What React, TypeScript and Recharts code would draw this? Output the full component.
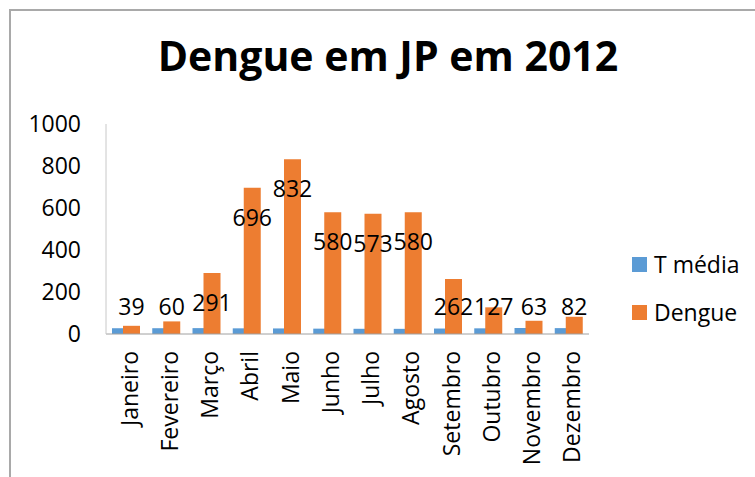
import React from "react";
import { BarChart, Bar, XAxis, YAxis, Legend, LabelList } from "recharts";

const months = [
  "Janeiro",
  "Fevereiro",
  "Março",
  "Abril",
  "Maio",
  "Junho",
  "Julho",
  "Agosto",
  "Setembro",
  "Outubro",
  "Novembro",
  "Dezembro",
];
const tMedia = [27.5, 27.6, 28, 27, 26.5, 25.5, 24.8, 24.6, 26, 27, 28.5, 28];
const dengue = [39, 60, 291, 696, 832, 580, 573, 580, 262, 127, 63, 82];
const yTicks = [0, 200, 400, 600, 800, 1000];

const data = months.map((m, i) => ({ mes: m, tMedia: tMedia[i], dengue: dengue[i] }));

const BLUE = "#5b9bd5";
const ORANGE = "#ed7d31";
const FONT = "'Open Sans', sans-serif";

const MonthTick = (props: any) => {
  const { x, y, payload } = props;
  const ty = y + 17;
  return (
    <text
      x={x + 2.5}
      y={ty}
      transform={`rotate(-90, ${x + 2.5}, ${ty})`}
      textAnchor="end"
      dominantBaseline="central"
      fontFamily={FONT}
      fontSize={23}
      fill="#000"
    >
      {payload.value}
    </text>
  );
};

const DengueLabel = (props: any) => {
  const { x, y, width, value } = props;
  const cy = Math.min(y + 29, 306);
  return (
    <text
      x={x + width / 2}
      y={cy}
      textAnchor="middle"
      dominantBaseline="central"
      fontFamily={FONT}
      fontSize={23}
      fill="#000"
    >
      {value}
    </text>
  );
};

const legendItems = [
  { name: "T média", color: BLUE },
  { name: "Dengue", color: ORANGE },
];

const LegendBox = () => (
  <div style={{ fontFamily: FONT, fontSize: 23, color: "#000" }}>
    {legendItems.map((it) => (
      <div
        key={it.name}
        style={{ display: "flex", alignItems: "center", height: 30, marginBottom: 18, whiteSpace: "nowrap" }}
      >
        <span style={{ display: "inline-block", width: 15, height: 15, background: it.color, marginRight: 7 }} />
        <span style={{ lineHeight: "30px" }}>{it.name}</span>
      </div>
    ))}
  </div>
);

const App = () => {
  return (
    <div
      style={{
        position: "fixed",
        left: 0,
        top: 0,
        width: 755,
        height: 477,
        overflow: "hidden",
        background: "#fff",
      }}
    >
      <div
        style={{
          position: "absolute",
          left: 9,
          top: 9,
          width: 800,
          height: 520,
          border: "2px solid #a9a9a9",
        }}
      />
      <div
        style={{
          position: "absolute",
          left: 0,
          width: 776,
          top: 27,
          textAlign: "center",
          fontFamily: FONT,
          fontWeight: 700,
          fontSize: 41,
          lineHeight: "56px",
          color: "#000",
        }}
      >
        Dengue em JP em 2012
      </div>
      <BarChart
        width={755}
        height={477}
        data={data}
        margin={{ top: 124, right: 166, bottom: 0, left: 0 }}
        barGap={-6}
        style={{ position: "absolute", left: 0, top: 0 }}
      >
        <XAxis
          dataKey="mes"
          interval={0}
          height={143}
          tickLine={false}
          tickSize={0}
          tickMargin={0}
          stroke="#a0a0a0"
          tick={<MonthTick />}
        />
        <YAxis
          domain={[0, 1000]}
          ticks={yTicks}
          width={106}
          tickLine={false}
          tickSize={0}
          tickMargin={25}
          stroke="#c8c8c8"
          tick={{ fontFamily: FONT, fontSize: 23, fill: "#000" }}
        />
        <Legend
          layout="vertical"
          align="center"
          verticalAlign="middle"
          content={<LegendBox />}
          wrapperStyle={{ left: 632, top: 249, width: 120 }}
        />
        <Bar dataKey="tMedia" name="T média" fill={BLUE} barSize={17} isAnimationActive={false} />
        <Bar dataKey="dengue" name="Dengue" fill={ORANGE} barSize={17} isAnimationActive={false}>
          <LabelList dataKey="dengue" content={<DengueLabel />} />
        </Bar>
      </BarChart>
    </div>
  );
};

export default App;
